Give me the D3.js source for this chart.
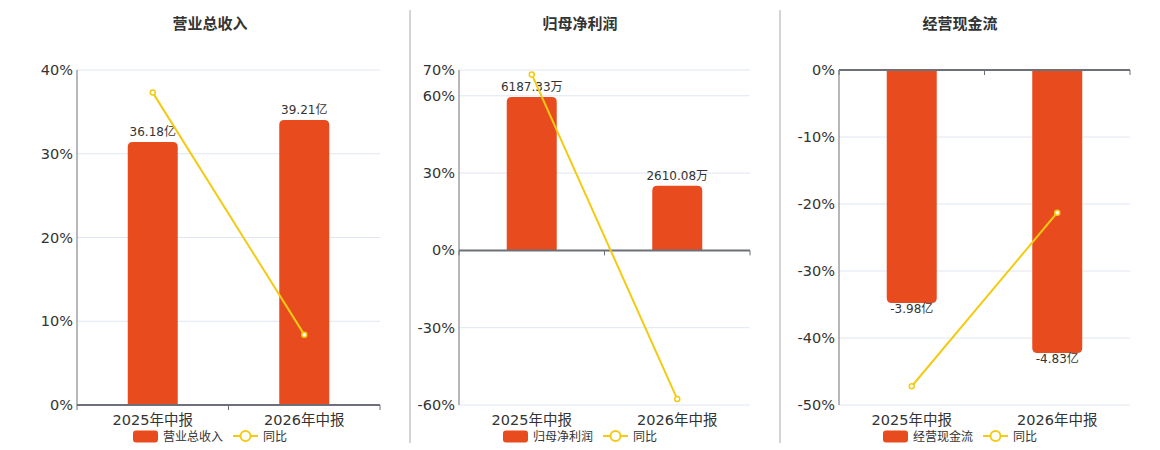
<!DOCTYPE html>
<html>
<head>
<meta charset="utf-8">
<script src="https://cdn.jsdelivr.net/npm/d3@7"></script>
<style>
  body { margin: 0; background: #fff; }
  svg text { font-family: "DejaVu Sans", "Noto Sans CJK SC", sans-serif; }
</style>
</head>
<body>
<svg id="chart" width="1160" height="450"></svg>
<script>
// data
const categories = ["2025年中报", "2026年中报"];
const titles = ["营业总收入", "归母净利润", "经营现金流"];
const barValues = [[36.18, 39.21], [6187.33, 2610.08], [-3.98, -4.83]];
const barLabels = [["36.18亿", "39.21亿"], ["6187.33万", "2610.08万"], ["-3.98亿", "-4.83亿"]];
const yoyValues = [[37.3, 8.4], [68.3, -57.7], [-47.2, -21.3]];
const pctTicks = [[0, 10, 20, 30, 40], [-60, -30, 0, 30, 60, 70], [-50, -40, -30, -20, -10, 0]];
const pctDomain = [[0, 40], [-60, 70], [-50, 0]];
// hidden bar axis: value at the far end of the percent axis
const barExtent = [46.1, 7280, -5.72];

const barColor = "#E84C1E";
const lineColor = "#F2CB12";

const svg = d3.select("#chart");

// panel layout
const panels = [
  { left: 77, right: 380, titleX: 210 },
  { left: 459, right: 750, titleX: 580 },
  { left: 839, right: 1130, titleX: 960 }
];
const plotTop = 70, plotBottom = 405;

// separators
[410, 780].forEach(x => {
  svg.append("line")
    .attr("x1", x).attr("x2", x).attr("y1", 10).attr("y2", 443)
    .attr("stroke", "#aaa").attr("stroke-width", 1);
});

// rounded rect with only the far end rounded
function barPath(x, w, y0, y1, r) {
  if (y1 < y0) { // going up
    const h = y0 - y1; r = Math.min(r, h);
    return `M${x},${y0}V${y1 + r}Q${x},${y1} ${x + r},${y1}H${x + w - r}Q${x + w},${y1} ${x + w},${y1 + r}V${y0}Z`;
  } else {
    const h = y1 - y0; r = Math.min(r, h);
    return `M${x},${y0}V${y1 - r}Q${x},${y1} ${x + r},${y1}H${x + w - r}Q${x + w},${y1} ${x + w},${y1 - r}V${y0}Z`;
  }
}

panels.forEach((p, i) => {
  const g = svg.append("g");

  const x = d3.scaleBand().domain(categories).range([p.left, p.right]);
  const y = d3.scaleLinear().domain(pctDomain[i]).range([plotBottom, plotTop]);

  // bars share the zero line with the percent axis
  const yBar = d3.scaleLinear()
    .domain([0, barExtent[i]])
    .range([y(0), barExtent[i] > 0 ? y(pctDomain[i][1]) : y(pctDomain[i][0])]);

  // title
  g.append("text")
    .attr("x", p.titleX).attr("y", 29)
    .attr("text-anchor", "middle")
    .attr("font-size", 15).attr("font-weight", "bold")
    .attr("fill", "#333")
    .text(titles[i]);

  // grid lines
  g.selectAll(".grid").data(pctTicks[i]).enter().append("line")
    .attr("x1", p.left).attr("x2", p.right)
    .attr("y1", d => y(d)).attr("y2", d => y(d))
    .attr("stroke", "#E0E6F1").attr("stroke-width", 1);

  // y labels
  g.selectAll(".ylab").data(pctTicks[i]).enter().append("text")
    .attr("x", p.left - 4).attr("y", d => y(d) + 5)
    .attr("text-anchor", "end")
    .attr("font-size", 14.5).attr("fill", "#333")
    .text(d => d + "%");

  // y axis line
  g.append("line")
    .attr("x1", p.left).attr("x2", p.left)
    .attr("y1", plotTop).attr("y2", plotBottom)
    .attr("stroke", "#6E7079").attr("stroke-width", 1);

  // bars
  const bw = 50;
  g.selectAll(".bar").data(barValues[i]).enter().append("path")
    .attr("d", (d, j) => {
      const cx = x(categories[j]) + x.bandwidth() / 2;
      return barPath(cx - bw / 2, bw, yBar(0), yBar(d), 5);
    })
    .attr("fill", barColor);

  // x axis on zero line
  const y0 = y(0);
  g.append("line")
    .attr("x1", p.left).attr("x2", p.right)
    .attr("y1", y0).attr("y2", y0)
    .attr("stroke", "#6E7079").attr("stroke-width", 2);
  const tickXs = [p.left, p.left + x.bandwidth(), p.right];
  g.selectAll(".xtick").data(tickXs).enter().append("line")
    .attr("x1", d => d).attr("x2", d => d)
    .attr("y1", y0).attr("y2", y0 + 5)
    .attr("stroke", "#6E7079").attr("stroke-width", 1);

  // category labels
  g.selectAll(".xlab").data(categories).enter().append("text")
    .attr("x", d => x(d) + x.bandwidth() / 2).attr("y", 425)
    .attr("text-anchor", "middle")
    .attr("font-size", 14.5).attr("fill", "#333")
    .text(d => d);

  // bar labels
  g.selectAll(".blab").data(barValues[i]).enter().append("text")
    .attr("x", (d, j) => x(categories[j]) + x.bandwidth() / 2)
    .attr("y", d => d >= 0 ? yBar(d) - 6 : yBar(d) + 10)
    .attr("text-anchor", "middle")
    .attr("font-size", 12).attr("fill", "#333")
    .text((d, j) => barLabels[i][j]);

  // yoy line
  const line = d3.line()
    .x((d, j) => x(categories[j]) + x.bandwidth() / 2)
    .y(d => y(d));
  g.append("path")
    .datum(yoyValues[i])
    .attr("d", line)
    .attr("fill", "none")
    .attr("stroke", lineColor).attr("stroke-width", 2);
  g.selectAll(".pt").data(yoyValues[i]).enter().append("circle")
    .attr("cx", (d, j) => x(categories[j]) + x.bandwidth() / 2)
    .attr("cy", d => y(d))
    .attr("r", 2.5)
    .attr("fill", "#fff")
    .attr("stroke", lineColor).attr("stroke-width", 1.5);

  // legend
  const lx = p.titleX - 77;
  const ly = 436;
  g.append("rect")
    .attr("x", lx).attr("y", ly - 5.5)
    .attr("width", 25).attr("height", 12).attr("rx", 3)
    .attr("fill", barColor);
  g.append("text")
    .attr("x", lx + 30).attr("y", ly + 4.5)
    .attr("font-size", 12).attr("fill", "#333")
    .text(titles[i]);
  const lx2 = lx + 100;
  g.append("line")
    .attr("x1", lx2).attr("x2", lx2 + 25)
    .attr("y1", ly).attr("y2", ly)
    .attr("stroke", lineColor).attr("stroke-width", 2);
  g.append("circle")
    .attr("cx", lx2 + 12.5).attr("cy", ly).attr("r", 5)
    .attr("fill", "#fff")
    .attr("stroke", lineColor).attr("stroke-width", 2);
  g.append("text")
    .attr("x", lx2 + 30).attr("y", ly + 4.5)
    .attr("font-size", 12).attr("fill", "#333")
    .text("同比");
});
</script>
</body>
</html>
